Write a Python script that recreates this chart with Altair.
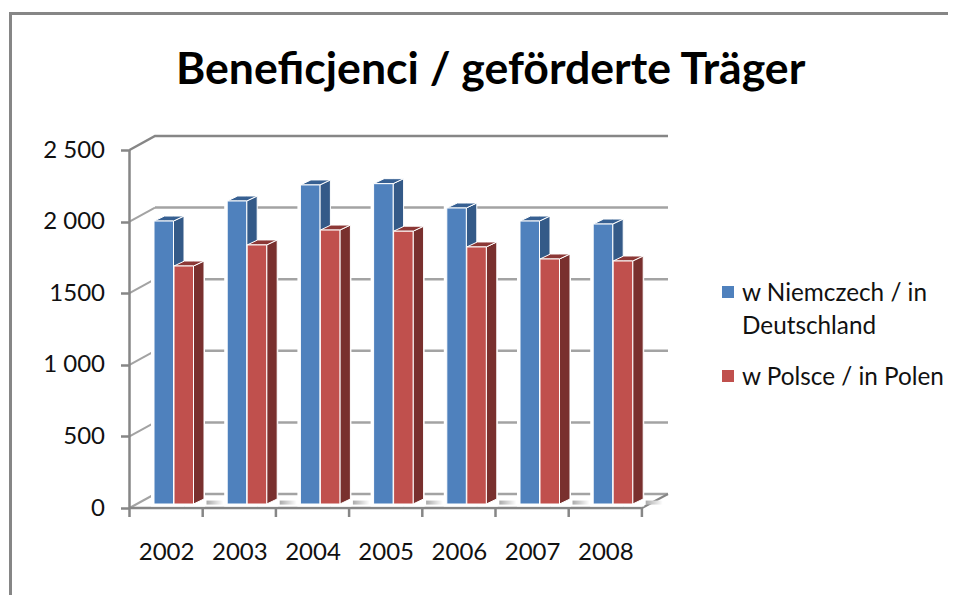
import altair as alt
import pandas as pd

years = ["2002", "2003", "2004", "2005", "2006", "2007", "2008"]
de_values = [1976, 2116, 2228, 2237, 2067, 1976, 1955]
pl_values = [1662, 1809, 1913, 1905, 1795, 1711, 1697]
series_names = ["w Niemczech / in\nDeutschland", "w Polsce / in Polen"]
y_ticks = [0, 500, 1000, 1500, 2000, 2500]
chart_title = "Beneficjenci / geförderte Träger"

FONT = "Lato"
AXIS = "#868686"
GRID = "#a3a3a3"
BG = "white"
BLUE, RED = "#4F81BD", "#C0504D"

PX_X = 73.2      # pixels per category
PX_Y = 0.1432    # pixels per value unit
W, H = 538.5, 372
XMAX, YMAX = W / PX_X, H / PX_Y
WALL_X, WALL_Y = 25.5 / PX_X, 14 / PX_Y     # depth of the chart box
DX, DY = 10.5 / PX_X, 5 / PX_Y              # depth of a bar
BASE = 4 / PX_Y                             # bars stand mid-depth
BAR_W = 19.5 / PX_X
START = {0: 24.5 / PX_X, 1: 44.5 / PX_X}
HALO = 3 / PX_X

n = len(years)
xs = alt.Scale(domain=[0, XMAX], nice=False, zero=False)
ys = alt.Scale(domain=[0, YMAX], nice=False, zero=False)

X_AXIS = alt.Axis(
    values=[i + 0.5 for i in range(n)], title=None, domain=False, grid=False, ticks=False,
    labelFont=FONT, labelFontSize=24, labelColor="#111111", labelPadding=32,
    labelExpr="[" + ",".join(f"'{y}'" for y in years) + "][floor(datum.value)]")
Y_AXIS = alt.Axis(
    values=y_ticks, title=None, domain=False, grid=False, tickColor=AXIS, tickWidth=2.5, tickSize=9,
    labelFont=FONT, labelFontSize=24, labelColor="#111111", labelPadding=16,
    labelExpr="datum.value == 1500 ? '1500' : replace(format(datum.value, ','), ',', ' ')")


def X(f="x:Q"):
    return alt.X(f, scale=xs, axis=X_AXIS)


def Y(f="y:Q"):
    return alt.Y(f, scale=ys, axis=Y_AXIS)


def lines(segments, color, width):
    rows = []
    for k, seg in enumerate(segments):
        for (a, b) in seg:
            rows.append({"k": k, "x": a, "y": b})
    return alt.Chart(pd.DataFrame(rows)).mark_line(color=color, strokeWidth=width, strokeCap="butt").encode(
        x=X(), y=Y(), detail="k:N")


def rows_for(values, s):
    return [(i, i + START[s], i + START[s] + BAR_W, v + BASE) for i, v in enumerate(values)]


def face(rows, color):
    return alt.Chart(pd.DataFrame(rows)).mark_area(
        fill=color, stroke=BG, strokeWidth=1, orient="vertical", opacity=1
    ).encode(x=X(), y=Y(), y2="y2:Q", detail="k:N")


def side(values, s, color):
    out = []
    for k, x0, x1, top in rows_for(values, s):
        out += [{"k": k, "x": x1, "y": top, "y2": BASE},
                {"k": k, "x": x1 + DX, "y": top + DY, "y2": BASE + DY}]
    return face(out, color)


def top_face(values, s, color):
    out = []
    for k, x0, x1, top in rows_for(values, s):
        out += [{"k": k, "x": x0, "y": top, "y2": top},
                {"k": k, "x": x0 + DX, "y": top + DY, "y2": top},
                {"k": k, "x": x1, "y": top + DY, "y2": top},
                {"k": k, "x": x1 + DX, "y": top + DY, "y2": top + DY}]
    return face(out, color)


def halo(values, s, left, right):
    out = []
    for k, x0, x1, top in rows_for(values, s):
        out.append({"x": x0 - left, "x2": x1 + DX + right, "y": 10, "y2": top + DY})
    return alt.Chart(pd.DataFrame(out)).mark_rect(fill=BG).encode(x=X(), x2="x2:Q", y=Y(), y2="y2:Q")


def front(values, s, color):
    out = [{"x": x0, "x2": x1, "y": BASE, "y2": top} for k, x0, x1, top in rows_for(values, s)]
    return alt.Chart(pd.DataFrame(out)).mark_rect(fill=color, stroke=BG, strokeWidth=1).encode(
        x=X(), x2="x2:Q", y=Y(), y2="y2:Q")


# back wall, left wall and floor
grid = lines([[(WALL_X, v + WALL_Y), (XMAX, v + WALL_Y)] for v in y_ticks[:-1]], GRID, 2.5)
grid_top = lines([[(0, 2500), (WALL_X, 2500 + WALL_Y), (XMAX, 2500 + WALL_Y)]], AXIS, 2.5)
diag = lines([[(0, v), (WALL_X, v + WALL_Y)] for v in y_ticks[:-1]], GRID, 2)
floor_edge = lines([[(n, 0), (XMAX, WALL_Y)]], AXIS, 2)

floor_shade = alt.Chart(pd.DataFrame(
    [{"x": i + 77 / PX_X, "x2": i + 94 / PX_X, "y": BASE - 4, "y2": BASE + 24} for i in range(n)]
)).mark_rect(fill=alt.Gradient(gradient="linear", x1=0, x2=1, y1=0, y2=0,
                               stops=[alt.GradientStop(color="#aaaaaa", offset=0),
                                      alt.GradientStop(color="#ffffff", offset=1)])).encode(
    x=X(), x2="x2:Q", y=Y(), y2="y2:Q")

axis_lines = lines(
    [[(0, 0), (0, 2500)], [(0, 0), (n, 0)]] + [[(i, -9 / PX_Y), (i, 0)] for i in range(n + 1)],
    AXIS, 2.5)

# outer frame of the picture
frame_v = alt.Chart(pd.DataFrame({"a": [0]})).mark_rule(color=AXIS, strokeWidth=3).encode(
    x=alt.value(-119), y=alt.value(-124), y2=alt.value(470))
frame_h = alt.Chart(pd.DataFrame({"a": [0]})).mark_rule(color=AXIS, strokeWidth=3).encode(
    x=alt.value(-120), x2=alt.value(830), y=alt.value(-122.5))

# title
title_text = alt.Chart(pd.DataFrame({"t": [chart_title]})).mark_text(
    font=FONT, fontSize=44.6, fontWeight="bold", color="#000000", align="left", baseline="alphabetic").encode(
    x=alt.value(46.5), y=alt.value(-52), text="t:N")

# legend
legend_swatch = [
    alt.Chart(pd.DataFrame({"s": [name]})).mark_square(size=144, color=c, opacity=1).encode(
        x=alt.value(598.5), y=alt.value(yy))
    for name, c, yy in zip(series_names, [BLUE, RED], [156, 240])
]
legend_text = [
    alt.Chart(pd.DataFrame({"s": [name]})).mark_text(
        font=FONT, fontSize=24.3, color="#111111", align="left", baseline="alphabetic",
        lineBreak="\n", lineHeight=33).encode(
        x=alt.value(612.5), y=alt.value(yy), text="s:N")
    for name, yy in zip(series_names, [165, 249])
]

layers = [frame_v, frame_h, title_text, grid, grid_top, diag, floor_edge, floor_shade, axis_lines,
          halo(de_values, 0, HALO, 0), side(de_values, 0, "#345A88"), top_face(de_values, 0, "#376092"),
          front(de_values, 0, BLUE),
          halo(pl_values, 1, -DX, HALO / 3), side(pl_values, 1, "#79302E"), top_face(pl_values, 1, "#8C3836"),
          front(pl_values, 1, RED)] + legend_swatch + legend_text

chart = alt.layer(*layers).properties(
    width=W, height=H,
    padding={"left": 121.5, "top": 128, "right": 280, "bottom": 87},
    autosize=alt.AutoSizeParams(type="none"),
    background="white",
).configure_view(stroke=None)

chart.save("out.html", embed_options={"renderer": "svg", "actions": False})
